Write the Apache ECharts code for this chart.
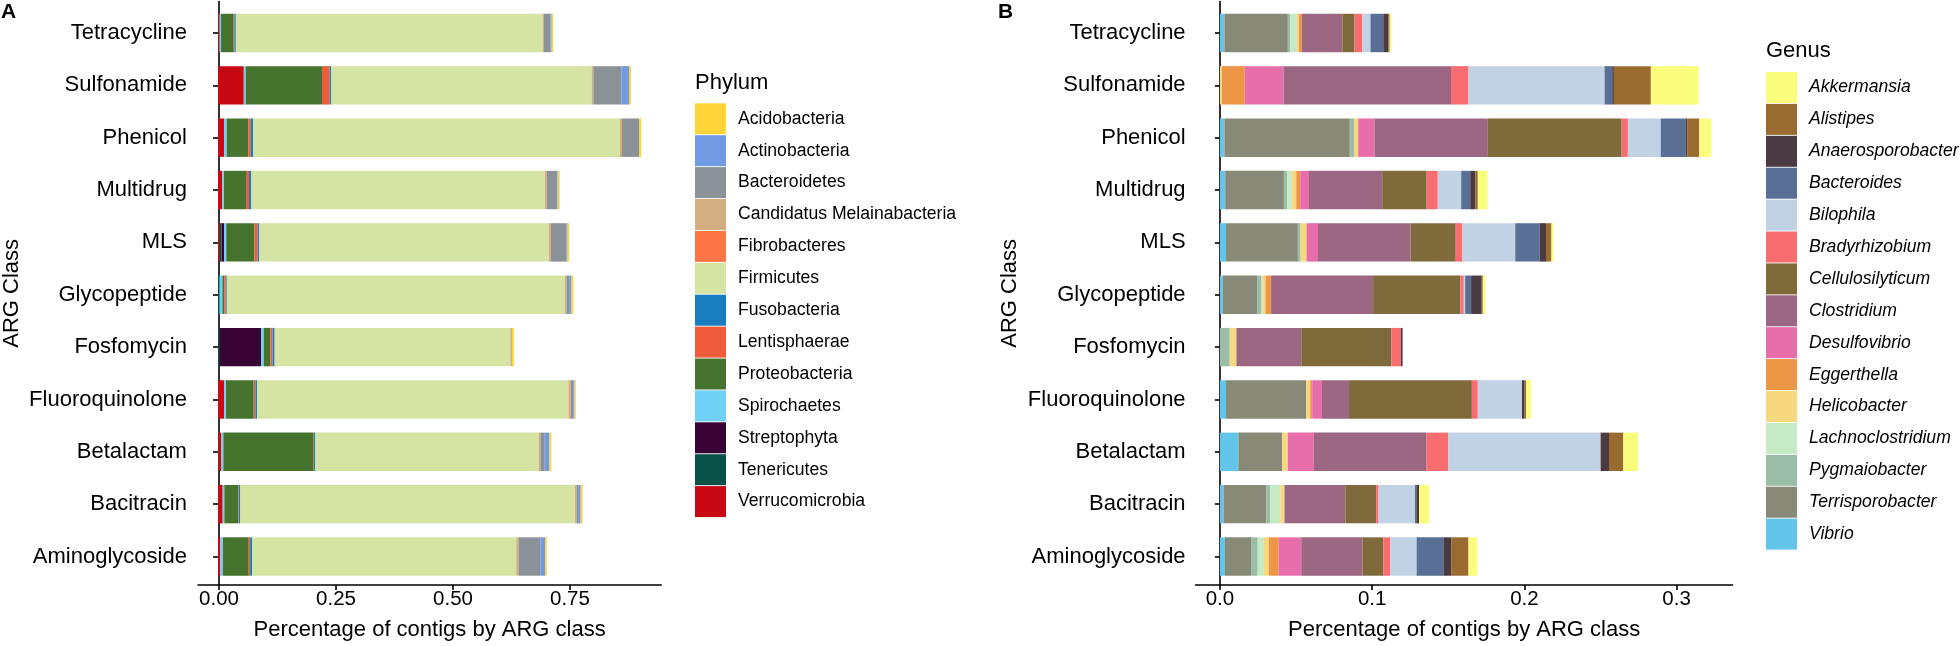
<!DOCTYPE html>
<html>
<head>
<meta charset="utf-8">
<script src="https://cdn.jsdelivr.net/npm/echarts@6/dist/echarts.min.js"></script>
<style>
html,body{margin:0;padding:0;background:#fff;}
#c{width:1960px;height:646px;}
</style>
</head>
<body>
<div id="c"></div>
<script>
// ---------- data ----------
const categories = ['Aminoglycoside','Bacitracin','Betalactam','Fluoroquinolone','Fosfomycin','Glycopeptide','MLS','Multidrug','Phenicol','Sulfonamide','Tetracycline'];

// Panel A: phylum (values per category, same order as categories)
const verrucomicrobia = [0.005,0.0099,0.0064,0.0135,0,0,0.0036,0.0092,0.0135,0.055,0.003];
const tenericutes     = [0,0,0,0,0.0036,0.003,0.004,0,0,0,0];
const streptophyta    = [0,0,0,0,0.0881,0,0.0057,0,0,0,0];
const spirochaetes    = [0.0055,0.0036,0.005,0.0036,0.0057,0.0064,0.0043,0.0036,0.005,0.004,0.0035];
const proteobacteria  = [0.055,0.0299,0.1926,0.059,0.0142,0.0043,0.0597,0.0469,0.0462,0.1627,0.027];
const lentisphaerae   = [0.003,0.001,0.0008,0.0036,0.005,0.003,0.0071,0.0064,0.005,0.0163,0.0015];
const fusobacteria    = [0.004,0.0032,0.0028,0.0035,0.0042,0.002,0.0035,0.005,0.0049,0.003,0.003];
const firmicutes      = [0.5635,0.7136,0.4762,0.6646,0.5025,0.7207,0.6177,0.6261,0.7824,0.5557,0.654];
const fibrobacteres   = [0,0,0,0.002,0,0,0,0,0,0,0];
const candidatus      = [0.005,0.0035,0.0036,0.002,0.0025,0.0036,0.0042,0.0036,0.0044,0.0036,0.003];
const bacteroidetes   = [0.046,0.003,0.0092,0.0057,0.001,0.0057,0.0334,0.0199,0.037,0.0604,0.014];
const actinobacteria  = [0.0105,0.0056,0.01,0.0028,0,0.005,0.0021,0.0035,0,0.0156,0.0025];
const acidobacteria   = [0.0035,0.004,0.0042,0.0025,0.004,0.004,0.0035,0.0043,0.0042,0.0043,0.003];

// Panel B: genus
const vibrio            = [0.0033,0.0024,0.0121,0.004,0,0.0018,0.004,0.0035,0.0029,0,0.0029];
const terrisporobacter  = [0.0171,0.0281,0.0288,0.0527,0,0.0226,0.0472,0.0385,0.0824,0,0.0417];
const pygmaiobacter     = [0.0044,0.0025,0,0,0.0064,0.0026,0.0018,0.0022,0.0028,0,0.0016];
const lachnoclostridium = [0.004,0.0068,0,0,0,0.0011,0,0.003,0,0,0.0043];
const helicobacter      = [0.0033,0.0026,0.0037,0.0026,0.0044,0.0018,0.0039,0.0029,0.0027,0.0013,0.0014];
const eggerthella       = [0.0064,0,0,0.0013,0,0.0037,0,0.0026,0,0.015,0.0019];
const desulfovibrio     = [0.0149,0,0.0171,0.0064,0,0,0.0075,0.0058,0.0107,0.0255,0];
const clostridium       = [0.0402,0.04,0.0741,0.0178,0.0426,0.067,0.0609,0.0481,0.0745,0.11,0.0266];
const cellulosilyticum  = [0.0137,0.0202,0,0.0807,0.0593,0.0574,0.0296,0.0292,0.0879,0,0.008];
const bradyrhizobium    = [0.0046,0.0016,0.0143,0.0039,0.0062,0.0022,0.0044,0.0073,0.0041,0.0115,0.0052];
const bilophila         = [0.0173,0.0239,0.1,0.029,0,0.0009,0.0347,0.0154,0.0216,0.0894,0.0053];
const bacteroides       = [0.0176,0.0009,0,0,0,0.0039,0.0161,0.0059,0.0165,0.005,0.0084];
const anaerosporobacter = [0.0051,0.0018,0.0055,0.0018,0.0011,0.007,0.0041,0.0033,0.0009,0.0011,0.0035];
const alistipes         = [0.0114,0,0.0094,0.0009,0,0.0007,0.0036,0.0017,0.0079,0.0243,0.0007];
const akkermansia       = [0.0057,0.0066,0.0097,0.0033,0,0.0016,0.0013,0.0064,0.0079,0.0314,0.0012];

// tick labels
const tickValuesA = [0, 0.25, 0.5, 0.75];
const tickLabelsA = ['0.00', '0.25', '0.50', '0.75'];
const tickValuesB = [0, 0.1, 0.2, 0.3];
const tickLabelsB = ['0.0', '0.1', '0.2', '0.3'];

// legend order (alphabetical) with colours
const phylumNames  = ['Acidobacteria','Actinobacteria','Bacteroidetes','Candidatus Melainabacteria','Fibrobacteres','Firmicutes','Fusobacteria','Lentisphaerae','Proteobacteria','Spirochaetes','Streptophyta','Tenericutes','Verrucomicrobia'];
const phylumColors = ['#FED439','#709AE1','#8A9197','#D2AF81','#FD7446','#D5E4A2','#197EC0','#F05C3B','#46732E','#71D0F5','#370335','#075149','#C80813'];
const phylumValues = [acidobacteria, actinobacteria, bacteroidetes, candidatus, fibrobacteres, firmicutes, fusobacteria, lentisphaerae, proteobacteria, spirochaetes, streptophyta, tenericutes, verrucomicrobia];

const genusNames  = ['Akkermansia','Alistipes','Anaerosporobacter','Bacteroides','Bilophila','Bradyrhizobium','Cellulosilyticum','Clostridium','Desulfovibrio','Eggerthella','Helicobacter','Lachnoclostridium','Pygmaiobacter','Terrisporobacter','Vibrio'];
const genusColors = ['#FAFD7C','#996B31','#4A3A42','#596F96','#C0D2E4','#F96D71','#7F6A3B','#9C6782','#E86DAB','#EC9646','#F6D87F','#C5EAC5','#9BBCA6','#898977','#64C5EB'];
const genusValues = [akkermansia, alistipes, anaerosporobacter, bacteroides, bilophila, bradyrhizobium, cellulosilyticum, clostridium, desulfovibrio, eggerthella, helicobacter, lachnoclostridium, pygmaiobacter, terrisporobacter, vibrio];

// ---------- chart ----------
const FONT = "'Liberation Sans', Arial, sans-serif";
const AXC = '#000';
const LW = 1.6;

const xMinA = -0.045, xMaxA = 0.945;
const xMinB = -0.016, xMaxB = 0.3368;

function barSeries(names, colors, values, stack, axisIdx) {
  const out = [];
  // stack from last level (left) to first level (right), like ggplot
  for (let i = names.length - 1; i >= 0; i--) {
    out.push({
      name: names[i],
      type: 'bar',
      stack: stack,
      xAxisIndex: axisIdx,
      yAxisIndex: axisIdx,
      barWidth: 38.4,
      data: values[i],
      itemStyle: { color: colors[i], borderWidth: 0 },
      emphasis: { disabled: true },
      silent: true
    });
  }
  return out;
}

function catAxis(gridIndex) {
  return {
    type: 'category', gridIndex: gridIndex, data: categories,
    axisLine: { show: false },
    axisTick: { show: true, alignWithLabel: true, length: 5, lineStyle: { color: AXC, width: LW } },
    axisLabel: { fontSize: 22, color: '#000', fontFamily: FONT, margin: 10 },
    splitLine: { show: false }
  };
}
function frameY(gridIndex) {
  return {
    type: 'value', gridIndex: gridIndex, min: 0, max: 1,
    axisLine: { show: true, lineStyle: { color: AXC, width: LW } },
    axisTick: { show: false }, axisLabel: { show: false }, splitLine: { show: false },
    name: 'ARG Class', nameLocation: 'middle', nameGap: 175, nameRotate: 90,
    nameTextStyle: { fontSize: 22, color: '#000', fontFamily: FONT }
  };
}
function frameX(gridIndex, mn, mx, vals, labs) {
  return {
    type: 'value', gridIndex: gridIndex, min: mn, max: mx,
    axisLine: { show: true, onZero: false, lineStyle: { color: AXC, width: LW } },
    axisTick: { show: true, length: 5, customValues: vals, lineStyle: { color: AXC, width: LW } },
    axisLabel: {
      show: true, customValues: vals, fontSize: 20.5, color: '#000', fontFamily: FONT, margin: 4,
      formatter: function (v) {
        for (let i = 0; i < vals.length; i++) if (Math.abs(vals[i] - v) < 1e-9) return labs[i];
        return '';
      }
    },
    splitLine: { show: false },
    name: 'Percentage of contigs by ARG class', nameLocation: 'middle', nameGap: 34,
    nameTextStyle: { fontSize: 22, color: '#000', fontFamily: FONT }
  };
}
function hiddenX(gridIndex, mn, mx) {
  return { type: 'value', gridIndex: gridIndex, min: mn, max: mx, show: false, splitLine: { show: false } };
}
function legend(names, left, top, italic) {
  return {
    data: names, orient: 'vertical', left: left, top: top, padding: 0,
    icon: 'rect', itemWidth: 31, itemHeight: 31, itemGap: 0.9,
    selectedMode: false,
    itemStyle: { borderWidth: 0 },
    textStyle: { fontSize: 17.6, color: '#000', fontFamily: FONT, fontStyle: italic ? 'italic' : 'normal', padding: [0, 0, 0, 7] }
  };
}

const chart = echarts.init(document.getElementById('c'), null, { renderer: 'canvas' });
chart.setOption({
  animation: false,
  backgroundColor: '#fff',
  textStyle: { fontFamily: FONT },
  title: [
    { text: 'A', left: 1, top: 2, padding: 0, textStyle: { fontSize: 21, fontWeight: 'bold', color: '#000', fontFamily: FONT } },
    { text: 'B', left: 998, top: 2, padding: 0, textStyle: { fontSize: 21, fontWeight: 'bold', color: '#000', fontFamily: FONT } },
    { text: 'Phylum', left: 695, top: 71.5, padding: 0, textStyle: { fontSize: 22, fontWeight: 'normal', color: '#000', fontFamily: FONT } },
    { text: 'Genus', left: 1766, top: 40, padding: 0, textStyle: { fontSize: 22, fontWeight: 'normal', color: '#000', fontFamily: FONT } }
  ],
  legend: [
    legend(phylumNames, 695, 103.3, false),
    legend(genusNames, 1766, 72, true)
  ],
  grid: [
    { left: 196.9, right: 1298.8, top: 6.8, bottom: 63.3 },
    { left: 196.9, right: 1298.8, top: 1.6, bottom: 58 },
    { left: 1195.6, right: 227.4, top: 6.8, bottom: 63.3 },
    { left: 1195.6, right: 227.4, top: 1.6, bottom: 58 }
  ],
  xAxis: [
    hiddenX(0, xMinA, xMaxA),
    frameX(1, xMinA, xMaxA, tickValuesA, tickLabelsA),
    hiddenX(2, xMinB, xMaxB),
    frameX(3, xMinB, xMaxB, tickValuesB, tickLabelsB)
  ],
  yAxis: [
    catAxis(0),
    frameY(1),
    catAxis(2),
    frameY(3)
  ],
  series: [].concat(
    barSeries(phylumNames, phylumColors, phylumValues, 'phylum', 0),
    barSeries(genusNames, genusColors, genusValues, 'genus', 2)
  )
});
</script>
</body>
</html>
